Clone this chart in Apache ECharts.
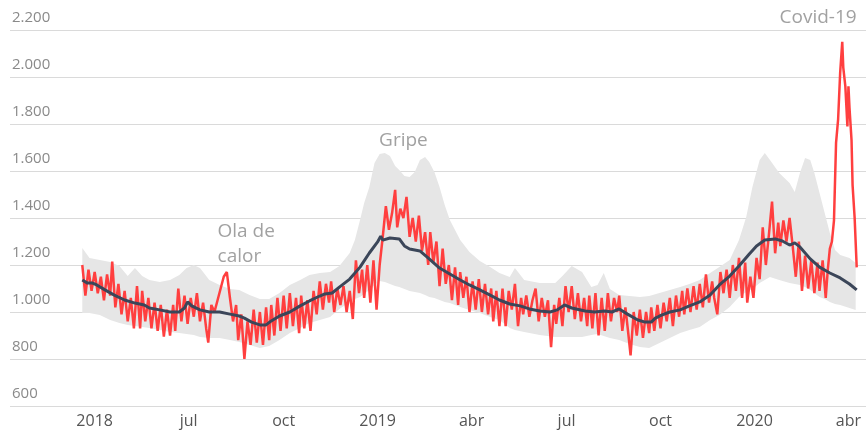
<!DOCTYPE html>
<html style="height: 100%">
<head>
<meta charset="utf-8" />
<title>Defunciones diarias</title>
<script src="https://cdn.jsdelivr.net/npm/echarts@6/dist/echarts.min.js"></script>
</head>
<body style="height: 100%; margin: 0; background: #fff">
<div id="container" style="width: 866px; height: 435px"></div>
<script type="text/javascript">
// x values are days counted from the "2018" tick
const tickDays = [0, 91, 183, 274, 365, 457, 548, 639, 730];
const tickLabels = ['2018', 'jul', 'oct', '2019', 'abr', 'jul', 'oct', '2020', 'abr'];

// observed daily deaths [day, deaths]
const observed = [
  [-12,1200],[-9,1070],[-6,1180],[-3,1090],[0,1170],[3,1080],[6,1150],[9,1050],[12,1160],[15,1070],
  [17,1215],[20,1020],[23,1120],[26,990],[29,1090],[32,960],[35,1060],[38,930],[41,1110],[44,930],
  [46,1090],[49,960],[52,1060],[55,930],[58,1040],[61,920],[64,1030],[67,895],[70,1010],[73,900],
  [76,1030],[78,920],[81,1100],[84,960],[87,1070],[90,950],[93,1060],[96,980],[99,1080],[102,960],
  [105,1040],[108,930],[110,870],[113,1030],[116,1000],[119,1050],[122,1100],[125,1150],[128,1170],[131,1060],
  [134,960],[137,1030],[139,880],[142,990],[145,800],[148,960],[151,860],[154,1010],[157,870],[160,1000],
  [163,860],[166,1020],[169,880],[171,1030],[174,900],[177,1060],[180,920],[183,1070],[186,930],[189,1080],
  [192,940],[195,1060],[198,910],[200,1070],[203,930],[206,1050],[209,920],[212,1090],[215,990],[218,1130],
  [221,1010],[224,1120],[227,1040],[229,1130],[232,1000],[235,1100],[238,1030],[241,1110],[244,1000],[247,1090],
  [250,970],[253,1220],[256,1080],[259,1180],[261,1060],[264,1200],[267,1040],[270,1220],[273,1010],[276,1200],
  [279,1320],[282,1450],[285,1350],[288,1420],[291,1520],[293,1360],[296,1440],[299,1400],[302,1490],[305,1320],
  [308,1400],[311,1300],[314,1410],[317,1260],[320,1340],[323,1200],[325,1340],[328,1210],[331,1300],[334,1110],
  [337,1270],[340,1120],[343,1200],[346,1050],[349,1190],[352,1030],[354,1170],[357,1060],[360,1150],[363,1000],
  [366,1130],[369,1010],[372,1140],[375,1000],[378,1120],[381,990],[384,1100],[386,960],[389,1090],[392,940],
  [395,1100],[398,940],[401,1090],[404,1010],[407,1120],[410,940],[413,1060],[415,990],[418,1070],[421,980],
  [424,1050],[427,1100],[430,960],[433,1060],[436,980],[439,1050],[442,850],[445,1030],[447,950],[450,1060],
  [453,940],[456,1110],[459,1000],[462,1110],[465,970],[468,1080],[471,960],[474,1060],[477,940],[479,1070],
  [482,930],[485,1080],[488,900],[491,1060],[494,920],[497,1080],[500,960],[503,1060],[506,1000],[508,1070],
  [511,920],[514,1020],[517,900],[519,815],[522,1000],[525,900],[528,1010],[531,890],[534,1000],[537,910],
  [539,1020],[542,920],[545,1030],[548,930],[551,1040],[554,960],[557,1060],[560,940],[563,1070],[566,980],
  [569,1090],[571,990],[574,1100],[577,1000],[580,1110],[583,1010],[586,1120],[589,1020],[592,1160],[595,1040],
  [598,1130],[600,1060],[603,990],[606,1170],[609,1080],[612,1180],[615,1060],[618,1200],[621,1090],[624,1230],
  [627,1060],[630,1210],[632,1040],[635,1150],[638,1060],[641,1230],[644,1140],[647,1360],[650,1200],[653,1330],
  [656,1470],[659,1250],[662,1380],[664,1280],[667,1390],[670,1300],[673,1400],[676,1280],[679,1150],[682,1300],
  [685,1090],[688,1240],[691,1100],[694,1220],[697,1080],[700,1210],[702,1090],[705,1220],[708,1060],[710,1180],
  [712,1270],[714,1300],[716,1390],[718,1720],[720,1820],[722,2020],[724,2150],[725,2040],[727,1960],[729,1790],
  [730,1960],[731,1870],[733,1730],[734,1540],[736,1400],[738,1190]
];

// expected deaths [day, deaths]
const expected = [
  [-12,1136],[-7,1123],[-2,1123],[2,1115],[10,1094],[19,1072],[29,1051],[39,1038],[48,1030],[53,1017],
  [63,1009],[73,1000],[82,1000],[87,1017],[90,1043],[94,1026],[102,1009],[111,1000],[121,1000],[131,991],
  [140,983],[145,974],[152,957],[160,945],[166,945],[171,962],[179,983],[189,1000],[199,1026],[208,1047],
  [218,1068],[223,1077],[230,1081],[237,1106],[247,1140],[257,1191],[266,1251],[274,1298],[277,1323],[279,1306],
  [286,1315],[295,1311],[300,1281],[305,1268],[315,1260],[324,1226],[334,1187],[344,1162],[354,1136],[363,1115],
  [373,1094],[383,1072],[392,1051],[402,1034],[412,1026],[421,1013],[431,1004],[441,1000],[448,1009],[455,1030],
  [462,1017],[475,1004],[484,1000],[494,1004],[501,1000],[508,1013],[516,991],[526,966],[533,957],[539,957],
  [543,974],[549,987],[557,1000],[567,1009],[576,1026],[586,1043],[596,1072],[605,1115],[615,1153],[624,1196],
  [634,1247],[641,1281],[649,1306],[659,1311],[666,1302],[673,1285],[678,1294],[683,1277],[693,1226],[702,1191],
  [712,1166],[722,1145],[731,1119],[738,1094]
];

// range of expected deaths
const bandDays = [
  -12,-5,5,15,24,32,39,46,53,63,73,82,89,96,102,111,121,131,140,150,
  160,169,179,189,199,208,218,228,237,247,252,257,261,266,271,276,281,286,291,295,
  300,305,310,315,320,324,329,334,339,344,354,363,373,383,392,402,407,416,431,446,
  453,462,472,481,487,493,499,508,518,528,537,547,557,567,576,586,596,605,615,624,
  631,637,644,649,654,663,673,678,683,688,693,697,702,707,712,717,722,731,737
];
const bandLow = [
  996,996,987,966,953,945,940,936,932,923,915,911,906,902,894,889,889,881,872,860,
  847,855,881,911,932,953,966,979,1013,1043,1055,1064,1077,1094,1115,1132,1128,1119,1111,1106,
  1098,1089,1085,1081,1072,1064,1060,1051,1043,1038,1021,1009,996,979,966,932,923,915,902,894,
  894,894,894,902,906,898,889,881,864,851,847,868,889,911,923,936,966,987,1021,1064,
  1085,1098,1123,1136,1149,1136,1123,1119,1115,1106,1094,1081,1064,1055,1043,1034,1030,1017,1009
];
const bandHigh = [
  1272,1230,1221,1213,1196,1153,1187,1153,1136,1128,1136,1157,1187,1200,1187,1136,1115,1098,1094,1072,
  1055,1055,1081,1115,1136,1157,1166,1170,1196,1251,1306,1391,1464,1532,1634,1672,1677,1664,1621,1604,
  1579,1574,1596,1647,1660,1638,1596,1532,1455,1391,1306,1255,1217,1191,1166,1149,1187,1136,1123,1123,
  1153,1196,1170,1106,1115,1166,1098,1072,1068,1064,1068,1081,1094,1106,1119,1136,1166,1191,1221,1306,
  1404,1532,1647,1677,1647,1591,1549,1511,1591,1655,1647,1591,1506,1421,1336,1264,1243,1230,1208
];

// annotations [day, deaths, text]
const notes = [
  [299, 1728, 'Gripe'],
  [119, 1287, 'Ola de\ncalor'],
  [738, 2200, 'Covid-19']
];

const fontFamily = '"Open Sans", sans-serif';

function thousands(v) {
  return String(v).replace(/\B(?=(\d{3})+(?!\d))/g, '.');
}

// the grey band is drawn as one polygon: upper edge forward, lower edge back
function renderBand(params, api) {
  if (params.dataIndex !== 0) return;
  let top = bandDays.map((d, i) => api.coord([d, bandHigh[i]]));
  let bottom = bandDays.map((d, i) => api.coord([d, bandLow[i]])).reverse();
  return {
    type: 'polygon',
    shape: { points: top.concat(bottom) },
    style: { fill: '#e6e6e6' },
    silent: true
  };
}

let chart = echarts.init(document.getElementById('container'));
chart.setOption({
  animation: false,
  grid: { left: 10, right: 0, top: 30, bottom: 29 },
  xAxis: {
    type: 'value',
    min: -82,
    max: 747,
    axisLine: { show: false },
    axisTick: { show: false },
    splitLine: { show: false },
    axisLabel: {
      customValues: tickDays,
      formatter: v => tickLabels[tickDays.indexOf(v)],
      color: '#555',
      fontSize: 16,
      fontFamily: fontFamily,
      margin: 7
    }
  },
  yAxis: {
    type: 'value',
    min: 600,
    max: 2200,
    interval: 200,
    axisLine: { show: false },
    axisTick: { show: false },
    splitLine: { lineStyle: { color: '#dadada', width: 1 } },
    axisLabel: {
      inside: true,
      margin: 2,
      align: 'left',
      verticalAlign: 'bottom',
      padding: [0, 0, 5, 0],
      color: '#8a8a8a',
      fontSize: 15,
      fontFamily: fontFamily,
      formatter: thousands
    }
  },
  series: [
    {
      type: 'custom',
      renderItem: renderBand,
      data: bandDays.map((d, i) => [d, bandLow[i], bandHigh[i]]),
      encode: { x: 0, y: [1, 2] },
      z: 1
    },
    {
      type: 'line',
      data: observed,
      symbol: 'none',
      lineStyle: { color: '#ff3f3f', width: 2.5 },
      z: 3
    },
    {
      type: 'line',
      data: expected,
      symbol: 'none',
      lineStyle: { color: '#3b4659', width: 3 },
      z: 4
    },
    {
      type: 'scatter',
      symbolSize: 0,
      silent: true,
      z: 5,
      data: [
        { value: notes[0], label: { align: 'center', verticalAlign: 'middle' } },
        { value: notes[1], label: { align: 'left', verticalAlign: 'middle' } },
        { value: notes[2], label: { align: 'right', verticalAlign: 'bottom' } }
      ],
      label: {
        show: true,
        position: 'inside',
        formatter: p => p.data.value[2],
        color: '#8a8a8a',
        fontSize: 19,
        lineHeight: 25,
        fontFamily: fontFamily
      }
    }
  ]
});
</script>
</body>
</html>
